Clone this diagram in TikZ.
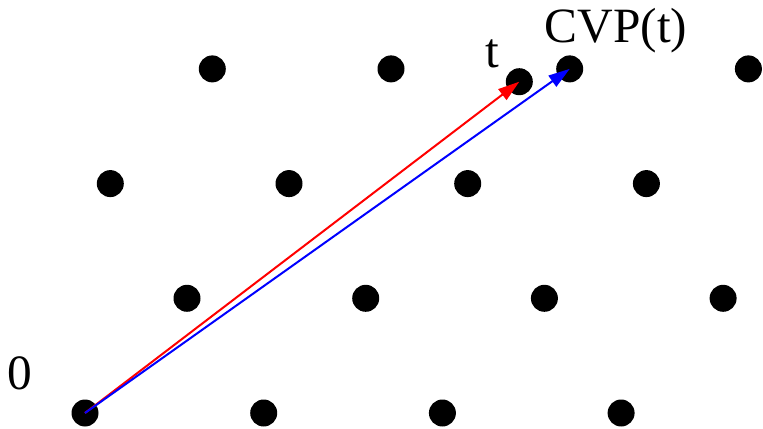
\documentclass[tikz,border=0pt]{standalone}
\usepackage{fontspec}
\setmainfont{Liberation Serif}
\usetikzlibrary{arrows.meta}
\definecolor{vecR}{HTML}{FF0000}
\definecolor{vecB}{HTML}{0000FF}

\tikzset{
  latpt/.style={circle, fill=black, inner sep=0pt, minimum size=20.25pt},
  vec/.style={line width=1.5pt, -{Triangle[length=16pt, width=10pt]}},
  lab/.style={anchor=base, font=\fontsize{37}{40}\selectfont}
}

\begin{document}
\begin{tikzpicture}[x=0.75pt, y=0.75pt]
  \useasboundingbox (0,0) rectangle (763,428);

  % Lattice points, rows j = 0..3, row start x
  \foreach \j/\s in {0/85, 1/187, 2/110.3, 3/212.3}{
    \foreach \i in {0,1,2,3}{
      \node[latpt] (p\i\j) at ({\s+178.7*\i}, {15+114.7*\j}) {};
    }
  }
  % Target point
  \node[latpt] (t) at (519.3,346.3) {};

  % Labels
  \node[lab] (lzero) at (20,38) {0};
  \node[lab] (lt) at (492,360) {t};
  \node[lab] (lcvp) at (616,385) {CVP(t)};

  % Vectors from the origin
  \draw[vec, vecR] (p00.center) -- (t.center);
  \draw[vec, vecB] (p00.center) -- (p23.center);

\end{tikzpicture}
\end{document}
